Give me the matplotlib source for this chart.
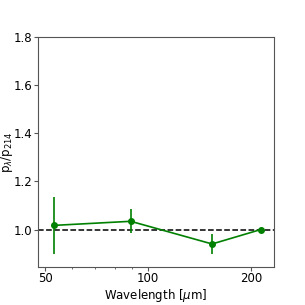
import numpy as np
import matplotlib
matplotlib.use('Agg')
import matplotlib.pyplot as plt
from matplotlib.ticker import FixedLocator, NullFormatter, FixedFormatter

wavelength = [53, 89, 154, 214]
ratio = [1.017, 1.034, 0.940, 1.000]
ratio_err = [0.118, 0.050, 0.042, 0.0]

fig = plt.figure(figsize=(3.05, 3.05), dpi=100)
ax = fig.add_axes([0.123, 0.125, 0.775, 0.755])

ax.axhline(1.0, color='black', linestyle='--', linewidth=1.1)
ax.errorbar(wavelength, ratio, yerr=ratio_err, color='green', marker='o',
            markersize=4, linewidth=1.2, elinewidth=1.2, capsize=0)

ax.set_xscale('log')
ax.set_xlim(47.5, 233.5)
ax.set_ylim(0.845, 1.8)
ax.xaxis.set_major_locator(FixedLocator([50, 100, 200]))
ax.xaxis.set_major_formatter(FixedFormatter(['50', '100', '200']))
ax.xaxis.set_minor_locator(FixedLocator([60, 70, 80, 90]))
ax.xaxis.set_minor_formatter(NullFormatter())
ax.set_yticks([1.0, 1.2, 1.4, 1.6, 1.8])

for s in ax.spines.values():
    s.set_color('#555555')
ax.tick_params(which='major', length=3, pad=1, labelsize=8.5,
               colors='#555555', labelcolor='black')
ax.tick_params(which='minor', length=1.5, colors='#555555')
ax.set_xlabel(r'Wavelength [$\mu$m]', fontsize=8.5, labelpad=1)
ax.set_ylabel(r'p$_\lambda$/p$_{214}$', fontsize=8.5, labelpad=-1)

fig.savefig('out.png', dpi=100)
